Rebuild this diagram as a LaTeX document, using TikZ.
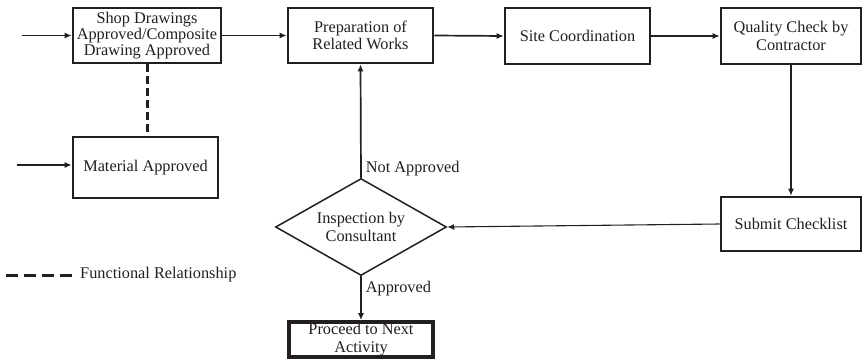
\documentclass[tikz,border=0pt]{standalone}
\usepackage{fontspec}
\setmainfont{Liberation Serif}
\usetikzlibrary{shapes.geometric,arrows.meta}
\definecolor{ink}{HTML}{231F20}
\begin{document}
\begin{tikzpicture}[x=1pt,y=-1pt,
  every node/.style={text=ink,font=\fontsize{16.3}{17.7}\selectfont},
  box/.style={draw=ink,line width=2.6pt,rectangle,inner sep=0pt,align=center},
  conn/.style={draw=ink,line width=1.7pt,-{Latex[length=7pt,width=6pt]}},
  lbl/.style={inner sep=0pt}]
\useasboundingbox (0,0) rectangle (863,359);
\node[box,minimum width=148pt,minimum height=55pt,font=\fontsize{16.3}{13.4}\selectfont] (shop) at (147,35.5) {Shop Drawings\\Approved/Composite\\Drawing Approved};
\node[box,minimum width=145pt,minimum height=55pt] (prep) at (360.5,35.5) {Preparation of\\Related Works};
\node[box,minimum width=145pt,minimum height=56pt] (site) at (577.5,36) {Site Coordination};
\node[box,minimum width=140pt,minimum height=56pt] (qc) at (791,36) {Quality Check by\\Contractor};
\node[box,minimum width=140pt,minimum height=54pt] (submit) at (791,224) {Submit Checklist};
\node[box,minimum width=145pt,minimum height=61pt] (mat) at (145.5,167.5) {Material Approved};
\node[draw=ink,line width=1.5pt,diamond,aspect=1.76,minimum width=171pt,minimum height=97pt,inner sep=0pt,align=center] (insp) at (361,227) {Inspection by\\Consultant};
\node[box,line width=3.6pt,minimum width=144pt,minimum height=35pt] (proc) at (361,339.5) {Proceed to Next\\Activity};
\coordinate (in1) at (22,35.5);
\coordinate (in2) at (17,165);
\coordinate (lg1) at (6,275);
\coordinate (lg2) at (72,275);
\draw[conn] (in1) -- (shop.west);
\draw[conn] (in2) -- (mat.west |- in2);
\draw[conn] (shop.east) -- (prep.west);
\draw[conn] (prep.east) -- (site.west);
\draw[conn] (site.east) -- (qc.west);
\draw[conn] (qc.south) -- (submit.north);
\draw[conn,line width=1.1pt] (submit.west) -- (insp.east);
\draw[conn] (insp.north) -- node[pos=0,lbl,anchor=base west,xshift=4pt,yshift=5pt] {Not Approved} (prep.south);
\draw[conn] (insp.south) -- node[pos=0,lbl,anchor=base west,xshift=4pt,yshift=-16pt] {Approved} (proc.north);
\draw[draw=ink,line width=3pt,dash pattern=on 8pt off 4pt] (shop.south) -- (shop.south |- mat.north);
\draw[draw=ink,line width=3pt,dash pattern=on 12pt off 6pt] (lg1) -- (lg2);
\node[anchor=west,inner sep=0pt] (lgt) at (80,275) {Functional Relationship};
\end{tikzpicture}
\end{document}
